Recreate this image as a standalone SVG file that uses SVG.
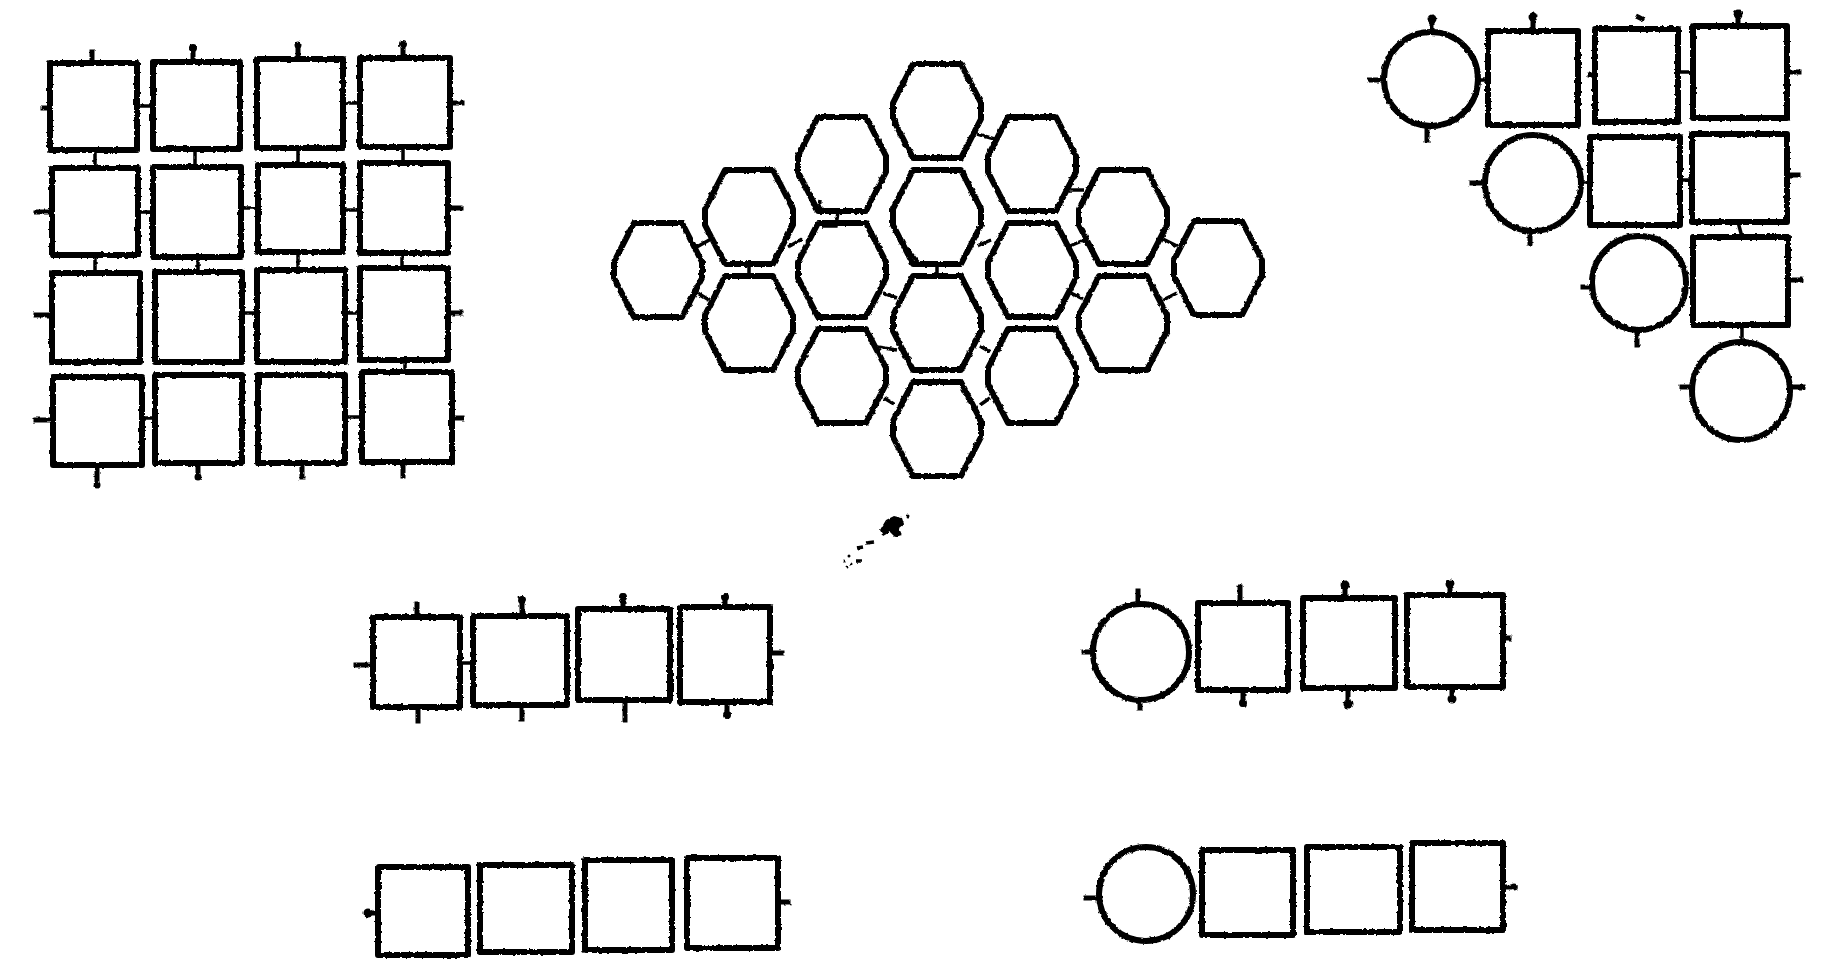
<svg xmlns="http://www.w3.org/2000/svg" xmlns:xlink="http://www.w3.org/1999/xlink" width="1834" height="977" viewBox="0 0 1834 977">
<style>
.s{fill:none;stroke:#000;stroke-width:6;stroke-linejoin:round}
.pin{stroke:#000;stroke-width:5;stroke-linecap:square}
.con{stroke:#000;stroke-width:3.5;fill:none}
.dot{fill:#000}
</style>
<defs>
<filter id="rough" filterUnits="userSpaceOnUse" x="0" y="0" width="1834" height="977">
<feTurbulence type="fractalNoise" baseFrequency="0.25" numOctaves="2" seed="3" result="n"/>
<feDisplacementMap in="SourceGraphic" in2="n" scale="3" xChannelSelector="R" yChannelSelector="G"/>
</filter>
<polygon id="hex" points="-24,-47 24,-47 44,-8 44,8 24,47 -24,47 -44,8 -44,-8"/>
</defs>
<rect width="1834" height="977" fill="#fff"/>
<g filter="url(#rough)">

<!-- Grid 4x4 squares -->
<g id="grid">
<g id="g11"><rect class="s" x="50" y="63" width="87" height="87"/></g>
<g id="g12"><rect class="s" x="153" y="62" width="87" height="87"/></g>
<g id="g13"><rect class="s" x="257" y="59" width="86" height="89"/></g>
<g id="g14"><rect class="s" x="360" y="58" width="90" height="89"/></g>
<g id="g21"><rect class="s" x="52" y="168" width="86" height="87"/></g>
<g id="g22"><rect class="s" x="153" y="167" width="88" height="90"/></g>
<g id="g23"><rect class="s" x="258" y="165" width="85" height="87"/></g>
<g id="g24"><rect class="s" x="360" y="163" width="88" height="90"/></g>
<g id="g31"><rect class="s" x="52" y="273" width="88" height="89"/></g>
<g id="g32"><rect class="s" x="155" y="272" width="87" height="90"/></g>
<g id="g33"><rect class="s" x="257" y="270" width="88" height="92"/></g>
<g id="g34"><rect class="s" x="360" y="268" width="88" height="92"/></g>
<g id="g41"><rect class="s" x="53" y="377" width="89" height="88"/></g>
<g id="g42"><rect class="s" x="155" y="375" width="87" height="88"/></g>
<g id="g43"><rect class="s" x="258" y="375" width="87" height="88"/></g>
<g id="g44"><rect class="s" x="362" y="372" width="90" height="90"/></g>
</g>

<!-- Hexagon cluster -->
<g id="hexes" class="s">
<g id="h1"><use xlink:href="#hex" href="#hex" x="658" y="270"/></g>
<g id="h2"><use xlink:href="#hex" href="#hex" x="749" y="217"/></g>
<g id="h3"><use xlink:href="#hex" href="#hex" x="749" y="323"/></g>
<g id="h4"><use xlink:href="#hex" href="#hex" x="842" y="164"/></g>
<g id="h5"><use xlink:href="#hex" href="#hex" x="842" y="270"/></g>
<g id="h6"><use xlink:href="#hex" href="#hex" x="842" y="376"/></g>
<g id="h7"><use xlink:href="#hex" href="#hex" x="937" y="111"/></g>
<g id="h8"><use xlink:href="#hex" href="#hex" x="937" y="217"/></g>
<g id="h9"><use xlink:href="#hex" href="#hex" x="937" y="323"/></g>
<g id="h10"><use xlink:href="#hex" href="#hex" x="937" y="429"/></g>
<g id="h11"><use xlink:href="#hex" href="#hex" x="1032" y="164"/></g>
<g id="h12"><use xlink:href="#hex" href="#hex" x="1032" y="270"/></g>
<g id="h13"><use xlink:href="#hex" href="#hex" x="1032" y="376"/></g>
<g id="h14"><use xlink:href="#hex" href="#hex" x="1123" y="217"/></g>
<g id="h15"><use xlink:href="#hex" href="#hex" x="1123" y="323"/></g>
<g id="h16"><use xlink:href="#hex" href="#hex" x="1218" y="268"/></g>
</g>

<!-- Top-right group -->
<g id="tr">
<g id="tr1"><circle class="s" cx="1431" cy="79" r="47"/></g>
<g id="tr2"><rect class="s" x="1488" y="31" width="90" height="94"/></g>
<g id="tr3"><rect class="s" x="1595" y="29" width="83" height="93"/></g>
<g id="tr4"><rect class="s" x="1693" y="26" width="94" height="92"/></g>
<g id="tr5"><circle class="s" cx="1533" cy="183" r="48"/></g>
<g id="tr6"><rect class="s" x="1590" y="137" width="90" height="88"/></g>
<g id="tr7"><rect class="s" x="1692" y="134" width="95" height="88"/></g>
<g id="tr8"><circle class="s" cx="1639" cy="283" r="47"/></g>
<g id="tr9"><rect class="s" x="1693" y="237" width="95" height="88"/></g>
<g id="tr10"><circle class="s" cx="1741" cy="391" r="49"/></g>
</g>

<!-- Middle rows -->
<g id="m1"><rect class="s" x="373" y="617" width="87" height="90"/></g>
<g id="m2"><rect class="s" x="473" y="616" width="94" height="89"/></g>
<g id="m3"><rect class="s" x="578" y="609" width="92" height="91"/></g>
<g id="m4"><rect class="s" x="680" y="607" width="90" height="95"/></g>
<g id="n1"><circle class="s" cx="1141" cy="652" r="48"/></g>
<g id="n2"><rect class="s" x="1198" y="603" width="90" height="87"/></g>
<g id="n3"><rect class="s" x="1303" y="598" width="92" height="90"/></g>
<g id="n4"><rect class="s" x="1407" y="595" width="96" height="92"/></g>

<!-- Bottom rows -->
<g id="b1"><rect class="s" x="378" y="867" width="90" height="88"/></g>
<g id="b2"><rect class="s" x="480" y="865" width="92" height="87"/></g>
<g id="b3"><rect class="s" x="585" y="860" width="87" height="90"/></g>
<g id="b4"><rect class="s" x="687" y="858" width="91" height="90"/></g>
<g id="c1"><circle class="s" cx="1146" cy="894" r="47"/></g>
<g id="c2"><rect class="s" x="1202" y="850" width="91" height="85"/></g>
<g id="c3"><rect class="s" x="1307" y="847" width="93" height="85"/></g>
<g id="c4"><rect class="s" x="1412" y="843" width="91" height="87"/></g>

<!-- Connectors and pins -->
<g id="connectors">
<!-- grid horizontal -->
<line class="con" x1="137" y1="106" x2="153" y2="106"/>
<line class="con" x1="343" y1="103" x2="360" y2="103"/>
<line class="con" x1="138" y1="212" x2="153" y2="212"/>
<line class="con" x1="241" y1="208" x2="258" y2="208"/>
<line class="con" x1="343" y1="210" x2="360" y2="210"/>
<line class="con" x1="242" y1="313" x2="257" y2="313"/>
<line class="con" x1="345" y1="313" x2="360" y2="313"/>
<line class="con" x1="142" y1="418" x2="155" y2="418"/>
<line class="con" x1="345" y1="417" x2="362" y2="417"/>
<!-- grid vertical -->
<line class="con" x1="95" y1="150" x2="95" y2="168"/>
<line class="con" x1="195" y1="149" x2="195" y2="167"/>
<line class="con" x1="298" y1="148" x2="298" y2="165"/>
<line class="con" x1="403" y1="147" x2="403" y2="163"/>
<line class="con" x1="95" y1="255" x2="95" y2="273"/>
<line class="con" x1="198" y1="257" x2="198" y2="272"/>
<line class="con" x1="298" y1="252" x2="298" y2="270"/>
<line class="con" x1="402" y1="253" x2="402" y2="268"/>
<line class="con" x1="405" y1="360" x2="405" y2="372"/>
<!-- grid pins -->
<line class="pin" x1="43" y1="108" x2="50" y2="108"/>
<line class="pin" x1="36" y1="212" x2="52" y2="212"/>
<line class="pin" x1="36" y1="315" x2="52" y2="315"/>
<line class="pin" x1="36" y1="420" x2="53" y2="420"/>
<line class="pin" x1="450" y1="103" x2="462" y2="103"/>
<line class="pin" x1="448" y1="208" x2="461" y2="208"/>
<line class="pin" x1="448" y1="313" x2="461" y2="313"/>
<line class="pin" x1="452" y1="418" x2="462" y2="418"/>
<line class="pin" x1="92" y1="52" x2="92" y2="63"/>
<line class="pin" x1="193" y1="49" x2="193" y2="62"/>
<line class="pin" x1="298" y1="45" x2="298" y2="59"/>
<line class="pin" x1="403" y1="44" x2="403" y2="58"/>
<line class="pin" x1="97" y1="465" x2="97" y2="485"/>
<line class="pin" x1="198" y1="463" x2="198" y2="477"/>
<line class="pin" x1="302" y1="463" x2="302" y2="477"/>
<line class="pin" x1="403" y1="462" x2="403" y2="476"/>
<circle class="dot" cx="193" cy="48" r="4"/>
<circle class="dot" cx="298" cy="45" r="3.5"/>
<circle class="dot" cx="403" cy="44" r="4"/>
<circle class="dot" cx="97" cy="485" r="3.5"/>
<circle class="dot" cx="198" cy="477" r="3.5"/>

<!-- hex stubs -->
<line class="con" x1="695" y1="248" x2="711" y2="239"/>
<line class="con" x1="749" y1="264" x2="749" y2="277"/>
<line class="con" x1="696" y1="292" x2="709" y2="300"/>
<line class="con" x1="788" y1="247" x2="802" y2="239"/>
<path class="con" d="M820 200 Q818 210 828 211 L838 212 L836 226 L822 226"/>
<line class="con" x1="937" y1="264" x2="937" y2="277"/>
<line class="con" x1="977" y1="134" x2="998" y2="140"/>
<line class="con" x1="883" y1="293" x2="897" y2="298"/>
<line class="con" x1="877" y1="347" x2="897" y2="350"/>
<line class="con" x1="980" y1="346" x2="990" y2="352"/>
<line class="con" x1="884" y1="398" x2="894" y2="404"/>
<line class="con" x1="980" y1="405" x2="990" y2="398"/>
<line class="con" x1="977" y1="246" x2="991" y2="240"/>
<line class="con" x1="1070" y1="190" x2="1084" y2="190"/>
<line class="con" x1="1070" y1="246" x2="1084" y2="240"/>
<line class="con" x1="1071" y1="293" x2="1083" y2="299"/>
<line class="con" x1="1163" y1="239" x2="1177" y2="246"/>
<line class="con" x1="1163" y1="300" x2="1177" y2="293"/>
<line class="con" x1="907" y1="248" x2="918" y2="262"/>

<!-- top-right connectors -->
<line class="con" x1="1478" y1="80" x2="1488" y2="80"/>
<line class="con" x1="1678" y1="72" x2="1693" y2="72"/>
<line class="con" x1="1581" y1="182" x2="1590" y2="182"/>
<line class="con" x1="1680" y1="180" x2="1692" y2="180"/>
<line class="con" x1="1738" y1="222" x2="1742" y2="237"/>
<line class="con" x1="1742" y1="325" x2="1742" y2="342"/>
<line class="pin" x1="1432" y1="20" x2="1432" y2="32"/>
<circle class="dot" cx="1432" cy="19" r="4.5"/>
<line class="pin" x1="1370" y1="80" x2="1384" y2="80"/>
<line class="pin" x1="1427" y1="126" x2="1427" y2="140"/>
<line class="pin" x1="1533" y1="18" x2="1533" y2="31"/>
<circle class="dot" cx="1533" cy="17" r="4.5"/>
<line class="pin" x1="1590" y1="75" x2="1595" y2="75"/>
<line class="pin" x1="1638" y1="17" x2="1642" y2="19"/>
<line class="pin" x1="1738" y1="14" x2="1738" y2="26"/>
<circle class="dot" cx="1738" cy="14" r="4.5"/>
<line class="pin" x1="1787" y1="72" x2="1799" y2="72"/>
<line class="pin" x1="1472" y1="183" x2="1485" y2="183"/>
<line class="pin" x1="1530" y1="231" x2="1530" y2="243"/>
<line class="pin" x1="1787" y1="175" x2="1799" y2="175"/>
<line class="pin" x1="1583" y1="287" x2="1592" y2="287"/>
<line class="pin" x1="1637" y1="330" x2="1637" y2="345"/>
<line class="pin" x1="1788" y1="280" x2="1801" y2="280"/>
<line class="pin" x1="1682" y1="387" x2="1692" y2="387"/>
<line class="pin" x1="1790" y1="387" x2="1803" y2="387"/>

<!-- middle row left -->
<line class="con" x1="460" y1="663" x2="473" y2="663"/>
<line class="pin" x1="417" y1="604" x2="417" y2="617"/>
<line class="pin" x1="356" y1="665" x2="370" y2="665"/>
<line class="pin" x1="418" y1="707" x2="418" y2="721"/>
<line class="pin" x1="522" y1="600" x2="522" y2="616"/>
<circle class="dot" cx="522" cy="600" r="4"/>
<line class="pin" x1="522" y1="705" x2="522" y2="719"/>
<line class="pin" x1="623" y1="596" x2="623" y2="609"/>
<circle class="dot" cx="623" cy="597" r="4"/>
<line class="pin" x1="625" y1="700" x2="625" y2="720"/>
<line class="pin" x1="725" y1="596" x2="725" y2="607"/>
<circle class="dot" cx="725" cy="597" r="4"/>
<line class="pin" x1="770" y1="653" x2="782" y2="653"/>
<line class="pin" x1="727" y1="702" x2="727" y2="715"/>
<circle class="dot" cx="727" cy="715" r="4"/>

<!-- middle row right -->
<line class="pin" x1="1138" y1="591" x2="1138" y2="604"/>
<line class="pin" x1="1084" y1="652" x2="1093" y2="652"/>
<line class="pin" x1="1140" y1="700" x2="1140" y2="708"/>
<line class="pin" x1="1240" y1="587" x2="1240" y2="603"/>
<line class="pin" x1="1243" y1="690" x2="1243" y2="704"/>
<circle class="dot" cx="1243" cy="703" r="4"/>
<line class="pin" x1="1345" y1="585" x2="1345" y2="598"/>
<circle class="dot" cx="1345" cy="585" r="4.5"/>
<line class="pin" x1="1348" y1="688" x2="1348" y2="705"/>
<circle class="dot" cx="1348" cy="704" r="4.5"/>
<line class="pin" x1="1450" y1="584" x2="1450" y2="595"/>
<circle class="dot" cx="1450" cy="584" r="4.5"/>
<line class="pin" x1="1503" y1="638" x2="1509" y2="638"/>
<line class="pin" x1="1452" y1="687" x2="1452" y2="700"/>
<circle class="dot" cx="1452" cy="699" r="4.5"/>

<!-- bottom rows -->
<line class="pin" x1="367" y1="913" x2="378" y2="913"/>
<circle class="dot" cx="368" cy="913" r="4.5"/>
<line class="pin" x1="778" y1="902" x2="788" y2="902"/>
<line class="pin" x1="1086" y1="898" x2="1098" y2="898"/>
<line class="pin" x1="1503" y1="887" x2="1515" y2="887"/>
<circle class="dot" cx="1514" cy="887" r="3.5"/>
</g>

<!-- smudge -->
<g id="smudge">
<path class="dot" d="M880 530 L886 520 L894 516 L902 518 L904 524 L899 528 L902 535 L895 537 L890 532 L883 536 Z"/>
<circle class="dot" cx="908" cy="516" r="1.5"/>
<line class="con" x1="866" y1="543" x2="874" y2="542" stroke-width="2"/>
<line class="con" x1="857" y1="548" x2="863" y2="547" stroke-width="2"/>
<line class="con" x1="856" y1="561" x2="862" y2="561" stroke-width="2"/>
<circle class="dot" cx="849" cy="556" r="1.5"/>
<circle class="dot" cx="844" cy="561" r="1.5"/>
<circle class="dot" cx="851" cy="564" r="1.5"/>
<circle class="dot" cx="847" cy="567" r="1.5"/>
</g>
</g>
</svg>
